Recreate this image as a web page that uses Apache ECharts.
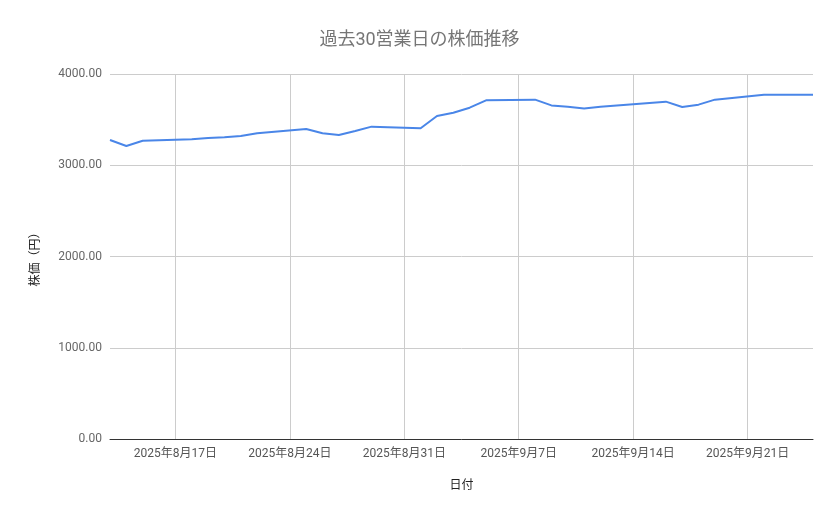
<!DOCTYPE html>
<html><head><meta charset="utf-8">
<script src="https://cdn.jsdelivr.net/npm/echarts@6/dist/echarts.min.js"></script>
<style>html,body{margin:0;padding:0;background:#fff}#c{width:839px;height:519px}</style>
</head><body><div id="c"></div>
<script>
const titleText = '過去30営業日の株価推移';
const xAxisName = '日付';
const yAxisName = '株価（円）';
const dates = ['2025-08-13','2025-08-14','2025-08-15','2025-08-18','2025-08-19','2025-08-20','2025-08-21','2025-08-22',
  '2025-08-25','2025-08-26','2025-08-27','2025-08-28','2025-08-29','2025-09-01','2025-09-02','2025-09-03','2025-09-04',
  '2025-09-05','2025-09-08','2025-09-09','2025-09-10','2025-09-11','2025-09-12','2025-09-16','2025-09-17','2025-09-18',
  '2025-09-19','2025-09-22','2025-09-24','2025-09-25'];
const prices = [3277,3211,3269,3284,3298,3306,3320,3350,3397,3350,3331,3375,3423,3405,3540,3576,3631,3711,3719,3656,
  3640,3623,3642,3697,3638,3664,3719,3773,3773,3773];
const xStart = '2025-08-13';
const xEnd = '2025-09-25';
const tickAnchor = '2025-08-17';
const yTicks = [0, 1000, 2000, 3000, 4000];

const DAY = 86400000;
function utc(s){const [y,m,d]=s.split('-').map(Number);return Date.UTC(y,m-1,d);}
const anchor = utc(tickAnchor);
function off(s){return (utc(s)-anchor)/DAY;}
const data = dates.map((d,i)=>[off(d), prices[i]]);
const xmin = off(xStart), xmax = off(xEnd);
function isWeekTick(v){return ((Math.round(v)%7)+7)%7===0;}
function fmtDate(v){const t=new Date(anchor+v*DAY);return t.getUTCFullYear()+'年'+(t.getUTCMonth()+1)+'月'+t.getUTCDate()+'日';}
// split line colours per daily tick (ticks run from xmin with step 1)
const splitColors = [];
for (let v = xmin; v <= xmax; v++) splitColors.push(isWeekTick(v) ? '#cccccc' : 'rgba(0,0,0,0)');
const FONT = "Roboto, 'Noto Sans CJK JP', sans-serif";

const chart = echarts.init(document.getElementById('c'));
chart.setOption({
  animation:false,
  textStyle:{fontFamily:FONT},
  title:{text:titleText,left:'center',top:27,textStyle:{fontFamily:FONT,fontSize:18,fontWeight:'normal',color:'#757575'}},
  grid:{left:110,right:26,top:74,bottom:80,containLabel:false},
  xAxis:{type:'value',min:xmin,max:xmax,interval:1,
    name:xAxisName,nameLocation:'middle',nameGap:41,nameTextStyle:{fontSize:12,color:'#222',fontFamily:FONT},
    axisLine:{show:true,lineStyle:{color:'#333',width:1}},
    axisTick:{show:false},
    axisLabel:{interval:0,color:'#555',fontSize:12,margin:9,fontFamily:FONT,
      formatter:v=>isWeekTick(v)?fmtDate(v):''},
    splitLine:{show:true,interval:0,lineStyle:{color:splitColors,width:1}}
  },
  yAxis:{type:'value',min:yTicks[0],max:yTicks[yTicks.length-1],interval:1000,
    name:yAxisName,nameLocation:'middle',nameGap:68,nameRotate:90,nameTextStyle:{fontSize:12,color:'#222',fontFamily:FONT},
    axisLine:{show:false},axisTick:{show:false},
    axisLabel:{color:'#666',fontSize:12,margin:8,fontFamily:FONT,formatter:v=>v.toFixed(2)},
    splitLine:{show:true,lineStyle:{color:'#cccccc',width:1}}
  },
  series:[{type:'line',data:data,showSymbol:false,symbol:'none',
    lineStyle:{color:'#4a86e8',width:2},itemStyle:{color:'#4a86e8'}}]
});
</script></body></html>
